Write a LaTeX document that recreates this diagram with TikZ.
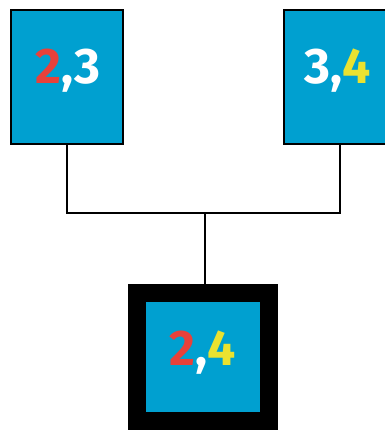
\documentclass[tikz,border=0pt]{standalone}
\usepackage{fontspec}
\setmainfont{Fira Sans}
\definecolor{cellblue}{RGB}{0,160,208}
\definecolor{numred}{RGB}{232,65,58}
\definecolor{numyellow}{RGB}{234,226,48}
\tikzset{
  cell/.style={draw=black, fill=cellblue, line width=2pt, minimum width=112pt, minimum height=134pt, inner sep=0pt},
  result/.style={draw=black, fill=cellblue, line width=18pt, minimum width=132pt, minimum height=128pt, inner sep=0pt},
  digits/.style={anchor=base, text=white, font=\fontsize{50}{50}\selectfont\bfseries, inner sep=0pt},
  link/.style={line width=2pt, draw=black}
}
\begin{document}
\begin{tikzpicture}[x=1pt, y=-1pt]
  \useasboundingbox (0,0) rectangle (385,431);
  % parent cells
  \node[cell] (a) at (67,77) {};
  \node[cell] (b) at (340,77) {};
  % combined cell with heavy frame
  \node[result] (c) at (203,357) {};
  % labels
  \node[digits] (ta) at (68,83) {\textcolor{numred}{2},3};
  \node[digits] (tb) at (338,83) {3,\textcolor{numyellow}{4}};
  \node[digits] (tc) at (203,365) {\textcolor{numred}{2},\textcolor{numyellow}{4}};
  % connectors
  \coordinate (j) at (205,213);
  \draw[link] (a.south) |- (j);
  \draw[link] (b.south) |- (j);
  \draw[link] (j) -- (c.north -| j);
\end{tikzpicture}
\end{document}
